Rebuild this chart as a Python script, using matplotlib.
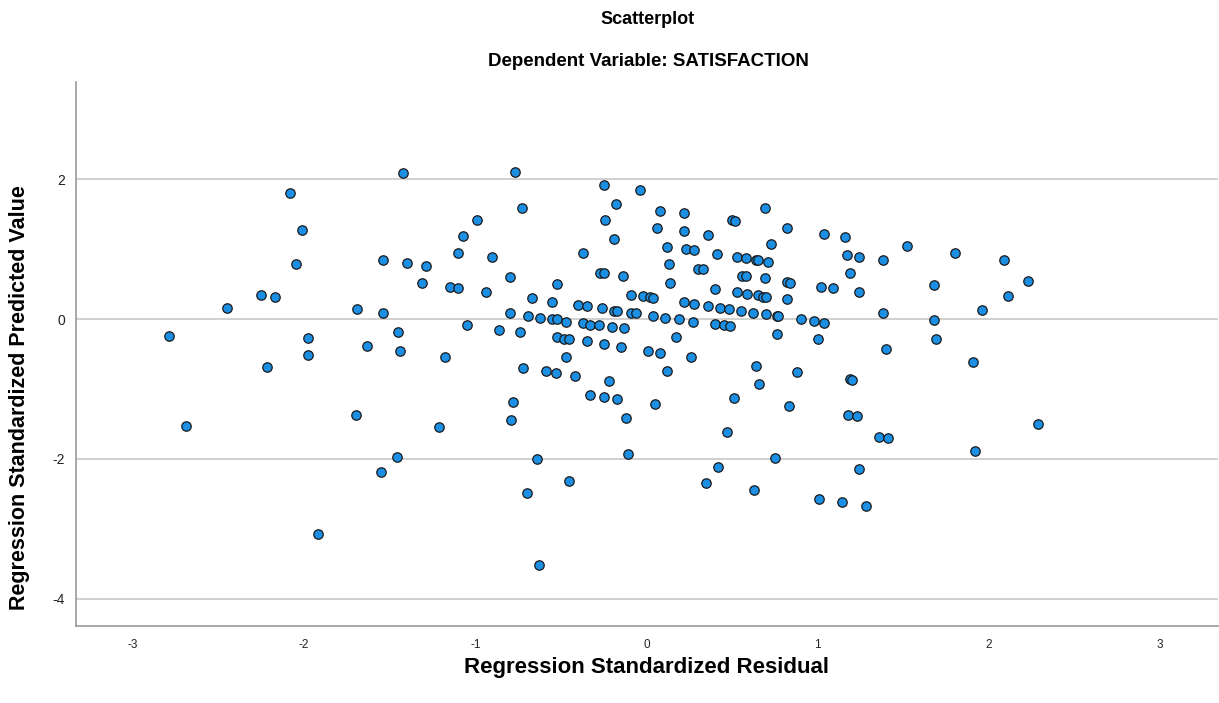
import matplotlib
matplotlib.use("Agg")
import matplotlib.pyplot as plt

plt.rcParams['font.family'] = ['Liberation Sans', 'DejaVu Sans']
plt.rcParams['axes.unicode_minus'] = False

# Regression standardized residual (x) / predicted value (y)
resid = [
    -2.79, -2.69, -2.45, -2.25, -2.22, -2.17, -2.08, -2.05, -2.01, -1.98, -1.98, -1.92,
    -1.70, -1.69, -1.63, -1.55, -1.54, -1.54, -1.46, -1.45, -1.44, -1.42, -1.40, -1.31,
    -1.29, -1.21, -1.18, -1.15, -1.10, -1.10, -1.07, -1.05, -0.99, -0.94, -0.90, -0.86,
    -0.80, -0.80, -0.79, -0.78, -0.77, -0.74, -0.73, -0.72, -0.70, -0.69, -0.67, -0.64,
    -0.63, -0.62, -0.59, -0.55, -0.55, -0.53, -0.52, -0.52, -0.52, -0.48, -0.47, -0.47,
    -0.45, -0.45, -0.42, -0.40, -0.37, -0.37, -0.35, -0.35, -0.33, -0.33, -0.28, -0.27,
    -0.26, -0.25, -0.25, -0.25, -0.25, -0.24, -0.22, -0.20, -0.19, -0.19, -0.18, -0.17,
    -0.17, -0.15, -0.14, -0.13, -0.12, -0.11, -0.09, -0.09, -0.06, -0.04, -0.02, 0.01,
    0.02, 0.04, 0.04, 0.05, 0.06, 0.08, 0.08, 0.11, 0.12, 0.12, 0.13, 0.14, 0.17,
    0.19, 0.22, 0.22, 0.22, 0.23, 0.26, 0.27, 0.28, 0.28, 0.30, 0.33, 0.35, 0.36,
    0.36, 0.40, 0.40, 0.41, 0.42, 0.43, 0.45, 0.47, 0.48, 0.49, 0.50, 0.51, 0.52,
    0.53, 0.53, 0.55, 0.56, 0.58, 0.58, 0.59, 0.62, 0.63, 0.64, 0.64, 0.65, 0.65,
    0.66, 0.68, 0.69, 0.69, 0.70, 0.70, 0.71, 0.73, 0.75, 0.76, 0.76, 0.77, 0.82,
    0.82, 0.82, 0.83, 0.84, 0.88, 0.90, 0.98, 1.00, 1.01, 1.02, 1.04, 1.04, 1.09,
    1.14, 1.16, 1.17, 1.18, 1.19, 1.19, 1.20, 1.23, 1.24, 1.24, 1.24, 1.28, 1.36,
    1.38, 1.38, 1.40, 1.41, 1.52, 1.68, 1.68, 1.69, 1.80, 1.91, 1.92, 1.96, 2.09,
    2.11, 2.23, 2.29,
]
pred = [
    -0.24, -1.53, 0.16, 0.34, -0.69, 0.31, 1.80, 0.78, 1.27, -0.27, -0.52, -3.07,
    -1.37, 0.15, -0.39, -2.19, 0.85, 0.09, -1.97, -0.19, -0.45, 2.08, 0.80, 0.52,
    0.76, -1.55, -0.54, 0.46, 0.95, 0.44, 1.19, -0.09, 1.41, 0.39, 0.88, -0.15,
    0.60, 0.09, -1.44, -1.19, 2.10, -0.18, 1.58, -0.70, -2.49, 0.05, 0.30, -2.00,
    -3.52, 0.02, -0.75, 0.25, 0.00, -0.77, 0.00, 0.50, -0.26, -0.28, -0.04, -0.54,
    -0.29, -2.31, -0.81, 0.20, 0.95, -0.06, 0.19, -0.32, -0.08, -1.09, -0.09, 0.66,
    0.16, 0.66, 1.92, -0.36, -1.11, 1.41, -0.88, -0.11, 1.14, 0.12, 1.64, 0.12,
    -1.15, -0.40, 0.61, -0.13, -1.42, -1.93, 0.34, 0.09, 0.08, 1.85, 0.33, -0.45,
    0.31, 0.30, 0.05, -1.22, 1.30, 1.55, -0.48, 0.01, 1.03, -0.74, 0.78, 0.52, -0.26,
    0.00, 1.51, 1.26, 0.24, 1.00, -0.54, -0.04, 0.98, 0.21, 0.71, 0.71, -2.35, 1.20,
    0.19, 0.43, -0.07, 0.93, -2.12, 0.16, -0.09, -1.62, 0.14, -0.10, 1.41, -1.13, 1.40,
    0.88, 0.38, 0.12, 0.62, 0.87, 0.61, 0.36, 0.09, -2.44, 0.85, -0.67, 0.84, 0.34,
    -0.93, 0.32, 1.59, 0.58, 0.32, 0.07, 0.82, 1.07, -1.98, 0.05, -0.21, 0.04, 1.30,
    0.53, 0.28, -1.25, 0.52, -0.76, 0.00, -0.03, -0.29, -2.57, 0.46, 1.21, -0.05, 0.44,
    -2.62, 1.17, 0.91, -1.37, 0.66, -0.86, -0.87, -1.38, 0.89, 0.38, -2.15, -2.67, -1.69,
    0.85, 0.08, -0.43, -1.70, 1.05, 0.49, -0.02, -0.29, 0.95, -0.61, -1.88, 0.13, 0.85,
    0.33, 0.55, -1.50,
]

xticks = [-3, -2, -1, 0, 1, 2, 3]
yticks = [-4, -2, 0, 2]

fig = plt.figure(figsize=(12.19, 7.03), dpi=100)
ax = fig.add_axes([76 / 1219, 1 - 626 / 703, 1142 / 1219, 544 / 703])

ax.scatter(resid, pred, s=46, c='#1a8fe3', edgecolors='#1a1a1a', linewidths=0.9, zorder=3)

ax.set_xlim(-3.333, 3.339)
ax.set_ylim(-4.386, 3.386)
ax.set_xticks(xticks)
ax.set_yticks(yticks)
ax.tick_params(axis='x', length=0, labelsize=8.5, pad=9, colors='#222222')
ax.tick_params(axis='y', length=0, labelsize=10, pad=8, colors='#222222')
ax.grid(axis='y', color='#c8c8c8', linewidth=1.2)
ax.set_axisbelow(True)
for s in ['top', 'right']:
    ax.spines[s].set_visible(False)
for s in ['left', 'bottom']:
    ax.spines[s].set_color('#9a9a9a')
    ax.spines[s].set_linewidth(1.2)

fig.text(648 / 1219, 1 - 20 / 703, 'Scatterplot', ha='center', va='center',
         fontsize=13, fontweight='bold')
fig.text(648 / 1219, 1 - 62 / 703, 'Dependent Variable: SATISFACTION', ha='center',
         va='center', fontsize=13.5, fontweight='bold')
fig.text(647 / 1219, 1 - 667 / 703, 'Regression Standardized Residual', ha='center',
         va='center', fontsize=16, fontweight='bold')
fig.text(20 / 1219, 1 - 398 / 703, 'Regression Standardized Predicted Value', ha='center',
         va='center', rotation=90, fontsize=15.5, fontweight='bold')

fig.savefig('out.png', dpi=100)
